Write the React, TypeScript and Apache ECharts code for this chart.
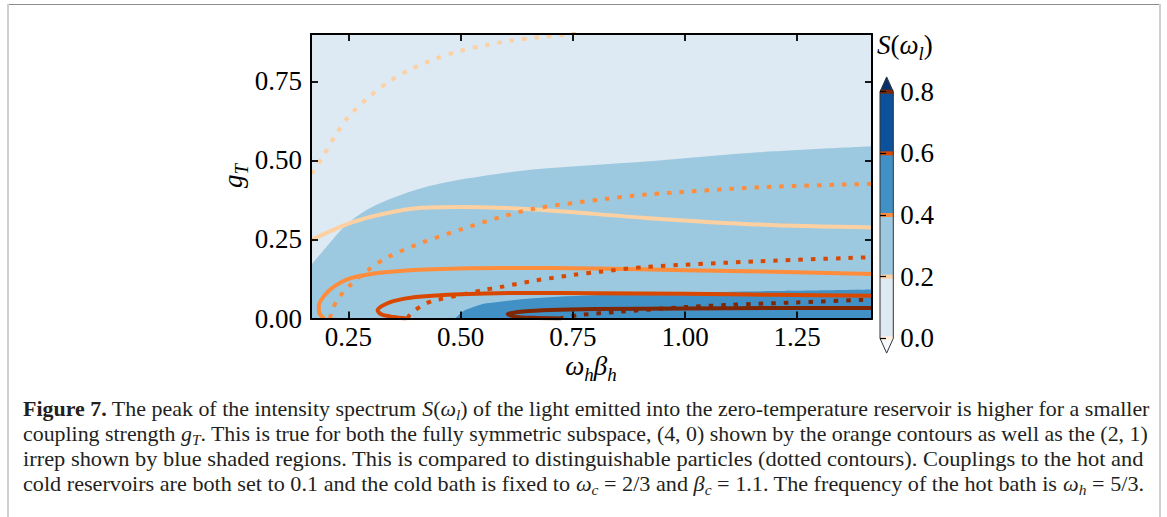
import React, { useEffect, useRef } from 'react';
import * as echarts from 'echarts';

const FONT = '"Liberation Serif", "Times New Roman", serif';

// axes
const xTicks = [0.25, 0.5, 0.75, 1.0, 1.25];
const yTicks = [0, 0.25, 0.5, 0.75];
const xMin = 1 / 6;
const xMax = 17 / 12;
const yMin = 0;
const yMax = 0.9;

// colour bar
const cbarLevels = [0, 0.2, 0.4, 0.6, 0.8];
const blueFills = ['#dde9f3', '#9dc9e0', '#4191c6', '#0b519c'];
const blueUnder = '#f7fbff';
const blueOver = '#08306b';
const orangeLevels = ['#fff0e2', '#fdd0a2', '#fd8d3c', '#d94801', '#7f2704'];

// (2,1) irrep: boundaries of the shaded regions S >= 0.2 and S >= 0.4
const irrepS02: number[][] = [
  [0.167, 0.169], [0.2, 0.225], [0.242, 0.292], [0.29, 0.343], [0.332, 0.372], [0.414, 0.413],
  [0.501, 0.44], [0.666, 0.472], [0.913, 0.497], [1.164, 0.526], [1.417, 0.545],
];
const irrepS04: number[][] = [
  [0.488, 0], [0.505, 0.022], [0.53, 0.037], [0.558, 0.048], [0.662, 0.064], [0.811, 0.074],
  [1.0, 0.082], [1.2, 0.087], [1.417, 0.092],
];

// (4,0) fully symmetric subspace: solid contours
const sym02: number[][] = [
  [0.167, 0.248], [0.25, 0.3], [0.332, 0.332], [0.414, 0.35], [0.501, 0.353], [0.666, 0.345],
  [0.913, 0.318], [1.164, 0.297], [1.417, 0.288],
];
const sym04: number[][] = [
  [1.417, 0.141], [1.2, 0.148], [1.0, 0.153], [0.8, 0.158], [0.6, 0.16], [0.44, 0.156],
  [0.33, 0.146], [0.254, 0.127], [0.217, 0.1], [0.195, 0.07], [0.184, 0.04], [0.186, 0.015], [0.196, 0],
];
const sym06: number[][] = [
  [1.417, 0.072], [1.2, 0.075], [1.0, 0.078], [0.8, 0.08], [0.65, 0.081], [0.5, 0.077],
  [0.4, 0.068], [0.35, 0.055], [0.325, 0.04], [0.315, 0.025], [0.325, 0.012], [0.35, 0.005], [0.38, 0],
];
const sym08: number[][] = [
  [1.417, 0.033], [1.2, 0.033], [1.0, 0.032], [0.8, 0.03], [0.7, 0.027], [0.64, 0.022],
  [0.605, 0.014], [0.62, 0.006], [0.66, 0.002], [0.72, 0],
];

// distinguishable particles: dotted contours
const dist02: number[][] = [
  [0.168, 0.458], [0.192, 0.51], [0.221, 0.579], [0.25, 0.638], [0.295, 0.7], [0.341, 0.75],
  [0.39, 0.789], [0.443, 0.821], [0.497, 0.846], [0.555, 0.864], [0.612, 0.879], [0.67, 0.889],
  [0.727, 0.897], [0.76, 0.905],
];
const dist04: number[][] = [
  [0.209, 0], [0.213, 0.021], [0.225, 0.058], [0.25, 0.1], [0.291, 0.15], [0.336, 0.193],
  [0.414, 0.24], [0.501, 0.282], [0.587, 0.32], [0.666, 0.348], [0.826, 0.379], [0.913, 0.392],
  [1.164, 0.415], [1.417, 0.426],
];
const dist06: number[][] = [
  [0.382, 0], [0.388, 0.014], [0.414, 0.041], [0.439, 0.056], [0.501, 0.075], [0.55, 0.09],
  [0.587, 0.099], [0.666, 0.12], [0.752, 0.138], [0.811, 0.148], [0.913, 0.163], [1.164, 0.181],
  [1.417, 0.194],
];
const dist08: number[][] = [
  [0.72, 0], [0.766, 0.011], [0.85, 0.021], [1.0, 0.036], [1.1, 0.043], [1.25, 0.051], [1.417, 0.06],
];

// caption
const captionLines = [
  '{b|Figure 7.} The peak of the intensity spectrum {i|S}({i|ω}{s|l}) of the light emitted into the zero-temperature reservoir is higher for a smaller',
  'coupling strength {i|g}{s|T}. This is true for both the fully symmetric subspace, (4, 0) shown by the orange contours as well as the (2, 1)',
  'irrep shown by blue shaded regions. This is compared to distinguishable particles (dotted contours). Couplings to the hot and',
  'cold reservoirs are both set to 0.1 and the cold bath is fixed to {i|ω}{s|c} = 2/3 and {i|β}{s|c} = 1.1. The frequency of the hot bath is {i|ω}{s|h} = 5/3.',
];
const captionY = [409, 434, 459, 484];
const captionStretch = [1.046, 1.042, 1.068, 1.057];

const mathRich = (size: number, color = '#000') => ({
  i: { fontFamily: FONT, fontStyle: 'italic', fontSize: size, lineHeight: size * 1.3, verticalAlign: 'middle', fill: color },
  r: { fontFamily: FONT, fontSize: size, lineHeight: size * 1.3, verticalAlign: 'middle', fill: color },
  b: { fontFamily: FONT, fontWeight: 'bold', fontSize: size, lineHeight: size * 1.3, verticalAlign: 'middle', fill: color },
  s: { fontFamily: FONT, fontStyle: 'italic', fontSize: size * 0.7, lineHeight: size * 0.72, verticalAlign: 'bottom', fill: color },
});

export default function App() {
  const ref = useRef<HTMLDivElement>(null);
  useEffect(() => {
    if (!ref.current) return;
    const chart = echarts.init(ref.current, null, { renderer: 'svg' });

    const frameAxis = {
      axisLine: { onZero: false, lineStyle: { color: '#000', width: 2 } },
      splitLine: { show: false },
      z: 10,
    };
    const area = (data: number[][], color: string) => ({
      type: 'line', xAxisIndex: 0, yAxisIndex: 0, data, smooth: 0.3, symbol: 'none', silent: true,
      lineStyle: { width: 0 }, areaStyle: { color, opacity: 1, origin: 'start' }, z: 1,
    });
    const contour = (data: number[][], color: string, dotted: boolean) => ({
      type: 'line', xAxisIndex: 0, yAxisIndex: 0, data, smooth: 0.3, symbol: 'none', silent: true,
      lineStyle: { color, width: 4, type: dotted ? [4.5, 8] : 'solid', cap: 'butt', join: 'round' },
      z: dotted ? 4 : 3,
    });
    const CAP = 21;

    const option: any = {
      animation: false,
      grid: [
        { left: 311, top: 34, width: 561, height: 284.5, show: true, backgroundColor: blueFills[0], borderWidth: 0, outerBoundsMode: 'none' },
        { left: 880, top: 91.7, width: 13.3, height: 246.6, outerBoundsMode: 'none' },
      ],
      xAxis: [
        {
          ...frameAxis, gridIndex: 0, type: 'value', min: xMin, max: xMax, position: 'bottom',
          axisTick: { inside: true, length: 7, lineStyle: { color: '#000', width: 1.8 }, customValues: xTicks },
          axisLabel: { customValues: xTicks, formatter: (v: number) => v.toFixed(2), fontFamily: FONT, fontSize: 27, color: '#000', margin: 5 },
        },
        {
          ...frameAxis, gridIndex: 0, type: 'value', min: xMin, max: xMax, position: 'top',
          axisTick: { inside: true, length: 7, lineStyle: { color: '#000', width: 1.8 }, customValues: xTicks },
          axisLabel: { show: false },
        },
        { gridIndex: 1, type: 'value', min: 0, max: 1, show: false, splitLine: { show: false } },
      ],
      yAxis: [
        {
          ...frameAxis, gridIndex: 0, type: 'value', min: yMin, max: yMax, position: 'left',
          axisTick: { inside: true, length: 7, lineStyle: { color: '#000', width: 1.8 }, customValues: yTicks },
          axisLabel: { customValues: yTicks, formatter: (v: number) => v.toFixed(2), fontFamily: FONT, fontSize: 27, color: '#000', margin: 9 },
        },
        {
          ...frameAxis, gridIndex: 0, type: 'value', min: yMin, max: yMax, position: 'right',
          axisTick: { inside: true, length: 7, lineStyle: { color: '#000', width: 1.8 }, customValues: yTicks },
          axisLabel: { show: false },
        },
        {
          gridIndex: 1, type: 'value', min: 0, max: 0.8, position: 'right', z: 10,
          axisLine: { show: false }, splitLine: { show: false },
          axisTick: { show: true, inside: false, length: 6, lineStyle: { color: '#000', width: 1.2 }, customValues: cbarLevels },
          axisLabel: { customValues: cbarLevels, formatter: (v: number) => v.toFixed(1), fontFamily: FONT, fontSize: 27, color: '#000', margin: 7 },
        },
      ],
      series: [
        area(irrepS02, blueFills[1]),
        area(irrepS04, blueFills[2]),
        contour(sym02, orangeLevels[1], false),
        contour(sym04, orangeLevels[2], false),
        contour(sym06, orangeLevels[3], false),
        contour(sym08, orangeLevels[4], false),
        contour(dist02, orangeLevels[1], true),
        contour(dist04, orangeLevels[2], true),
        contour(dist06, orangeLevels[3], true),
        contour(dist08, orangeLevels[4], true),
        // colour bar: filled bands
        {
          type: 'custom', xAxisIndex: 2, yAxisIndex: 2, silent: true, z: 2,
          data: cbarLevels.slice(0, -1).map((lo, i) => [lo, cbarLevels[i + 1], i]),
          renderItem: (_p: any, api: any) => {
            const a = api.coord([0, api.value(0)]);
            const b = api.coord([1, api.value(1)]);
            return { type: 'rect', shape: { x: a[0], y: b[1], width: b[0] - a[0], height: a[1] - b[1] }, style: { fill: blueFills[api.value(2)] } };
          },
        },
        // colour bar: extend triangles
        {
          type: 'custom', xAxisIndex: 2, yAxisIndex: 2, silent: true, z: 2,
          data: [[cbarLevels[cbarLevels.length - 1], 1], [cbarLevels[0], -1]],
          renderItem: (_p: any, api: any) => {
            const base = api.value(0);
            const dir = api.value(1);
            const tip = base + dir * 0.04 * 1.2;
            return {
              type: 'polygon',
              shape: { points: [api.coord([0, base]), api.coord([1, base]), api.coord([0.5, tip])] },
              style: { fill: dir > 0 ? blueOver : blueUnder },
            };
          },
        },
        // colour bar: contour level lines
        {
          type: 'custom', xAxisIndex: 2, yAxisIndex: 2, silent: true, z: 3,
          data: cbarLevels.map((v, i) => [v, i]),
          renderItem: (_p: any, api: any) => {
            const a = api.coord([0, api.value(0)]);
            const b = api.coord([1, api.value(0)]);
            return { type: 'rect', shape: { x: a[0], y: a[1] - 2, width: b[0] - a[0], height: 4 }, style: { fill: orangeLevels[api.value(1)] } };
          },
        },
        // colour bar: outline
        {
          type: 'custom', xAxisIndex: 2, yAxisIndex: 2, silent: true, z: 4,
          data: [[0, 0.8]],
          renderItem: (_p: any, api: any) => {
            const lo = api.value(0);
            const hi = api.value(1);
            const e = 0.04 * 1.2;
            return {
              type: 'polygon',
              shape: {
                points: [
                  api.coord([0, lo]), api.coord([0.5, lo - e]), api.coord([1, lo]),
                  api.coord([1, hi]), api.coord([0.5, hi + e]), api.coord([0, hi]),
                ],
              },
              style: { fill: 'none', stroke: '#333', lineWidth: 1 },
            };
          },
        },
      ],
      graphic: [
        { type: 'line', shape: { x1: 7, y1: 4.5, x2: 1161, y2: 4.5 }, style: { stroke: '#8c8c8c', lineWidth: 1 } },
        { type: 'line', shape: { x1: 8, y1: 4, x2: 8, y2: 517 }, style: { stroke: '#cfcfcf', lineWidth: 2 } },
        { type: 'line', shape: { x1: 1160, y1: 4, x2: 1160, y2: 517 }, style: { stroke: '#cfcfcf', lineWidth: 2 } },
        {
          type: 'text', x: 877, y: 45,
          style: { text: '{i|S}{r|(}{i|ω}{s|l}{r|)}', rich: mathRich(27), align: 'left', verticalAlign: 'middle' },
        },
        {
          type: 'text', x: 591, y: 366,
          style: { text: '{i|ω}{s|h}{i|β}{s|h}', rich: mathRich(27), align: 'center', verticalAlign: 'middle' },
        },
        {
          type: 'text', x: 233, y: 176, rotation: Math.PI / 2,
          style: { text: '{i|g}{s|T}', rich: mathRich(27), align: 'center', verticalAlign: 'middle' },
        },
        ...captionLines.map((line, k) => ({
          type: 'text', x: 23, y: captionY[k], scaleX: captionStretch[k],
          style: {
            text: line, rich: mathRich(CAP, '#231f20'), fontFamily: FONT, fontSize: CAP, lineHeight: CAP * 1.3,
            fill: '#231f20', align: 'left', verticalAlign: 'middle',
          },
        })),
      ],
    };
    chart.setOption(option);
    return () => chart.dispose();
  }, []);
  return <div ref={ref} style={{ position: 'absolute', left: 0, top: 0, width: 1167, height: 517 }} />;
}
